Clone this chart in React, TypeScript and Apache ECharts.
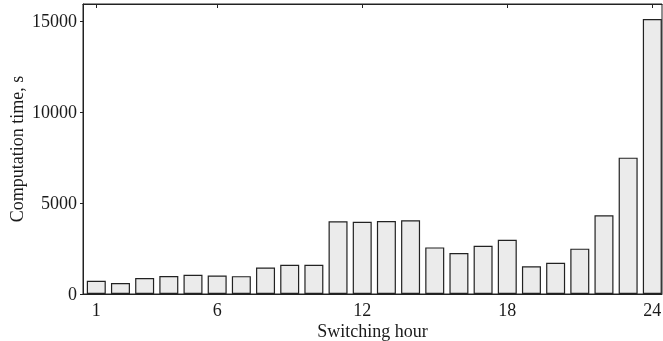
import React, { useEffect, useRef } from "react";
import * as echarts from "echarts";

const hours = [1,2,3,4,5,6,7,8,9,10,11,12,13,14,15,16,17,18,19,20,21,22,23,24];
const times = [730,600,880,990,1060,1020,980,1450,1610,1610,3990,3970,4010,4050,2560,2250,2650,2980,1520,1720,2490,4320,7490,15110];
const xTickValues = [1,6,12,18,24];
const yTicks = [0,5000,10000,15000];

const FONT = "'Liberation Serif', 'Times New Roman', serif";

export default function App() {
  const ref = useRef<HTMLDivElement>(null);
  useEffect(() => {
    const chart = echarts.init(ref.current!, null, { renderer: "svg" });
    chart.setOption({
      animation: false,
      grid: { left: 83, top: 4, right: 1, bottom: 47, show: true, borderColor: "#222", borderWidth: 1, containLabel: false, outerBoundsMode: "none" },
      xAxis: [
        {
          type: "value",
          min: 0.45,
          max: 24.4,
          name: "Switching hour",
          nameLocation: "middle",
          nameGap: 28,
          nameMoveOverlap: false,
          nameTextStyle: { fontFamily: FONT, fontSize: 18, color: "#1a1a1a", verticalAlign: "top", lineHeight: 18 },
          axisLine: { show: true, lineStyle: { color: "#222" } },
          axisTick: { show: false },
          splitLine: { show: false },
          axisLabel: { customValues: xTickValues, fontFamily: FONT, fontSize: 18, lineHeight: 18, color: "#1a1a1a", margin: 7 },
        },
        {
          type: "value",
          position: "top",
          min: 0.45,
          max: 24.4,
          axisLine: { show: true, lineStyle: { color: "#222" } },
          axisTick: { show: true, inside: true, length: 4, customValues: xTickValues, lineStyle: { color: "#222" } },
          axisLabel: { show: false },
          splitLine: { show: false },
        },
      ],
      yAxis: {
        type: "value",
        min: 0,
        max: 15930,
        interval: 5000,
        name: "Computation time, s",
        nameLocation: "middle",
        nameGap: 57,
        nameMoveOverlap: false,
        nameTextStyle: { fontFamily: FONT, fontSize: 18, color: "#1a1a1a" },
        axisLine: { show: true, lineStyle: { color: "#222" } },
        axisTick: { show: true, length: 3, customValues: yTicks, lineStyle: { color: "#222" } },
        axisLabel: { customValues: yTicks, formatter: (v: number) => String(v), fontFamily: FONT, fontSize: 18, color: "#1a1a1a", margin: 6 },
        splitLine: { show: false },
      },
      series: [
        {
          type: "bar",
          xAxisIndex: 0,
          data: hours.map((h, i) => [h, times[i]]),
          barWidth: 19,
          itemStyle: { color: "#ebebeb", borderColor: "#222", borderWidth: 1.2 },
        },
      ],
    });
    return () => chart.dispose();
  }, []);
  return <div ref={ref} style={{ position: "fixed", left: 0, top: 0, width: 663, height: 341 }} />;
}
